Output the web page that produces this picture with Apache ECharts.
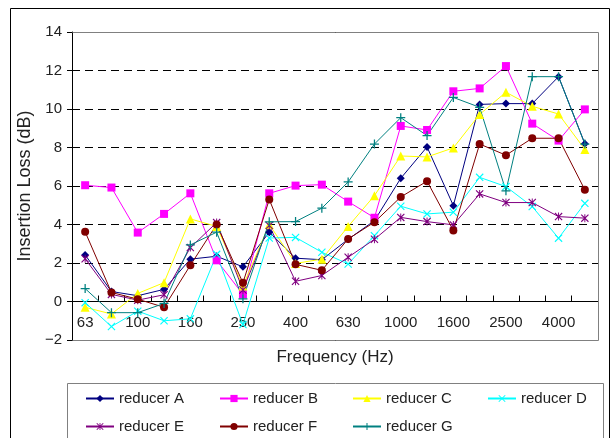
<!DOCTYPE html>
<html>
<head>
<meta charset="utf-8">
<script src="https://cdn.jsdelivr.net/npm/echarts@6/dist/echarts.min.js"></script>
<style>
html,body{margin:0;padding:0;background:#fff;}
#chart{width:612px;height:438px;}
</style>
</head>
<body>
<div id="chart"></div>
<script>
const categories = ['63','80','100','125','160','200','250','315','400','500','630','800','1000','1250','1600','2000','2500','3150','4000','5000'];
const reducerA = [2.42, 0.52, 0.3, 0.63, 2.2, 2.35, 1.8, 3.6, 2.25, 2.17, 3.23, 4.2, 6.4, 8.03, 4.98, 10.24, 10.28, 10.28, 11.68, 8.2];
const reducerB = [6.04, 5.92, 3.58, 4.55, 5.62, 2.14, 0.37, 5.62, 6.02, 6.07, 5.19, 4.35, 9.12, 8.91, 10.92, 11.07, 12.23, 9.24, 8.36, 9.98];
const reducerC = [-0.3, -0.65, 0.42, 0.98, 4.29, 3.9, 0.8, 4.0, 1.98, 2.2, 3.9, 5.5, 7.56, 7.51, 7.98, 9.72, 10.87, 10.14, 9.74, 7.9];
const reducerD = [-0.06, -1.3, -0.5, -1.0, -0.9, 2.45, -1.2, 3.3, 3.33, 2.56, 1.95, 3.42, 4.95, 4.55, 4.64, 6.45, 5.97, 4.93, 3.29, 5.1];
const reducerE = [2.22, 0.37, 0.07, 0.35, 2.8, 4.1, 0.6, 3.95, 1.05, 1.35, 2.3, 3.23, 4.37, 4.15, 3.98, 5.59, 5.14, 5.14, 4.41, 4.33];
const reducerF = [3.62, 0.47, 0.12, -0.3, 1.88, 4.0, 0.97, 5.3, 1.93, 1.62, 3.25, 4.12, 5.43, 6.25, 3.69, 8.18, 7.6, 8.48, 8.48, 5.8];
const reducerG = [0.67, -0.58, -0.58, -0.1, 2.94, 3.6, 0.14, 4.14, 4.15, 4.85, 6.21, 8.18, 9.55, 8.62, 10.6, 10.09, 5.75, 11.68, 11.68, 8.18];
const seriesNames = ['reducer A','reducer B','reducer C','reducer D','reducer E','reducer F','reducer G'];
const yTicks = {min: -2, max: 14, step: 2};

const FONT = '"Liberation Sans", Arial, sans-serif';
const PLUS = 'path://M4.3,0 L5.7,0 L5.7,4.3 L10,4.3 L10,5.7 L5.7,5.7 L5.7,10 L4.3,10 L4.3,5.7 L0,5.7 L0,4.3 L4.3,4.3 Z';
const XMARK = 'path://M0,1 L1,0 L10,9 L9,10 Z M9,0 L10,1 L1,10 L0,9 Z';
const ASTER = 'path://M0,1 L1,0 L10,9 L9,10 Z M9,0 L10,1 L1,10 L0,9 Z M4.4,0 L5.6,0 L5.6,10 L4.4,10 Z';

const styles = [
  {color:'#000080', symbol:'diamond', size:8},
  {color:'#FF00FF', symbol:'rect', size:8},
  {color:'#FFFF00', symbol:'triangle', size:9},
  {color:'#00FFFF', symbol:XMARK, size:8},
  {color:'#800080', symbol:ASTER, size:8},
  {color:'#800000', symbol:'circle', size:8},
  {color:'#008080', symbol:PLUS, size:9}
];
const allData = [reducerA, reducerB, reducerC, reducerD, reducerE, reducerF, reducerG];

const series = allData.map((d, i) => ({
  name: seriesNames[i],
  type: 'line',
  data: d,
  symbol: styles[i].symbol,
  symbolSize: styles[i].size,
  showAllSymbol: true,
  lineStyle: {color: styles[i].color, width: 1},
  itemStyle: {color: styles[i].color},
  emphasis: {disabled: true},
  animation: false
}));

const legendPos = [
  [85, 391], [219, 391], [352, 391], [487, 391],
  [85, 419], [219, 419], [352, 419]
];
const legends = seriesNames.map((n, i) => ({
  data: [n],
  left: legendPos[i][0],
  top: legendPos[i][1],
  itemWidth: 28,
  itemHeight: 9,
  itemGap: 0,
  padding: 0,
  textStyle: {fontFamily: FONT, fontSize: 15, color: '#222', padding: [0,0,0,0]},
  selectedMode: false
}));

// grid layout
const G = {left: 72, right: 14, top: 32, bottom: 98};
const plotH = 438 - G.top - G.bottom;
const zeroOffset = plotH * (0 - yTicks.min) / (yTicks.max - yTicks.min);

const chart = echarts.init(document.getElementById('chart'));
chart.setOption({
  animation: false,
  backgroundColor: '#fff',
  grid: {left: G.left, right: G.right, top: G.top, bottom: G.bottom, show: false},
  legend: legends,
  xAxis: {
    type: 'category',
    data: categories,
    boundaryGap: true,
    position: 'bottom',
    offset: -zeroOffset,
    name: 'Frequency (Hz)',
    nameLocation: 'middle',
    nameGap: 47,
    nameTextStyle: {fontFamily: FONT, fontSize: 17, color: '#222'},
    axisLine: {onZero: false, lineStyle: {color: '#000', width: 1}},
    axisTick: {show: true, inside: true, length: 6, interval: 0, alignWithLabel: false, lineStyle: {color: '#000'}},
    axisLabel: {interval: 1, margin: 14, fontFamily: FONT, fontSize: 15, color: '#222'},
    splitLine: {show: false}
  },
  yAxis: {
    type: 'value',
    min: yTicks.min,
    max: yTicks.max,
    interval: yTicks.step,
    name: 'Insertion Loss (dB)',
    nameLocation: 'middle',
    nameGap: 30,
    nameTextStyle: {fontFamily: FONT, fontSize: 18, color: '#222'},
    axisLine: {show: true, onZero: false, lineStyle: {color: '#000', width: 1}},
    axisTick: {show: true, inside: false, length: 5, lineStyle: {color: '#000'}},
    axisLabel: {margin: 10, fontFamily: FONT, fontSize: 15, color: '#222', formatter: v => String(v).replace('-', '\u2212')},
    splitLine: {show: true, lineStyle: {color: '#000', type: [8, 5], width: 1}}
  },
  graphic: [
    {type: 'rect', z: 100, silent: true, shape: {x: 10.5, y: 8.5, width: 599, height: 440}, style: {fill: 'none', stroke: '#000', lineWidth: 1}},
    {type: 'rect', z: 100, silent: true, shape: {x: 67.5, y: 383.5, width: 536, height: 60}, style: {fill: 'none', stroke: '#808080', lineWidth: 1}},
    {type: 'polyline', z: 100, silent: true, shape: {points: [[G.left + 0.5, G.top + 0.5], [612 - G.right + 0.5, G.top + 0.5], [612 - G.right + 0.5, 438 - G.bottom + 0.5], [G.left + 0.5, 438 - G.bottom + 0.5]]}, style: {fill: 'none', stroke: '#808080', lineWidth: 1}}
  ],
  series: series
});
</script>
</body>
</html>
